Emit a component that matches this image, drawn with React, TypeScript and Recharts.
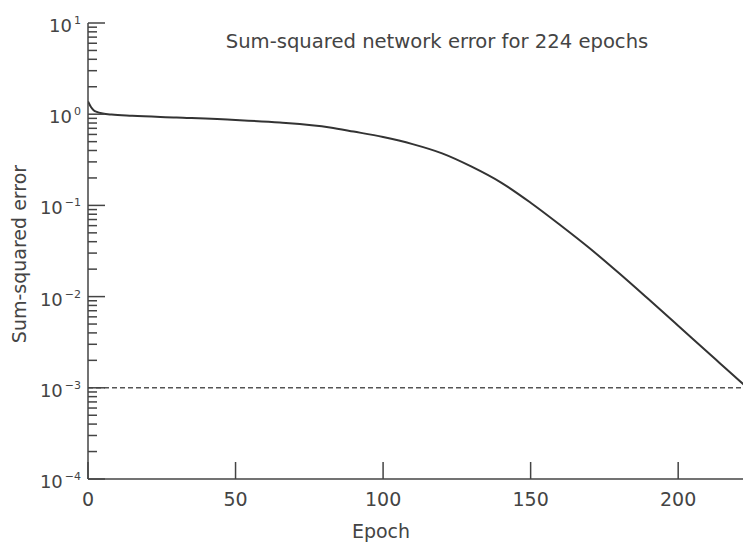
import React from "react"
import { LineChart, Line, XAxis, YAxis, ReferenceLine } from "recharts"

// values (epoch -> sum-squared error)
const epochs = [0, 1, 2, 3, 5, 8, 15, 30, 50, 65, 82, 90, 100, 110, 120, 130, 140, 150, 160, 170, 180, 190, 200, 210, 220, 224]
const errors = [1.38, 1.2, 1.1, 1.06, 1.02, 0.99, 0.96, 0.92, 0.865, 0.81, 0.716, 0.645, 0.562, 0.47, 0.372, 0.266, 0.178, 0.107, 0.061, 0.0339, 0.018, 0.00933, 0.00479, 0.00245, 0.00126, 0.00096]

const xTicks = [0, 50, 100, 150, 200]
const decades = [-4, -3, -2, -1, 0, 1]
const goal = 0.001

const title = "Sum-squared network error for 224 epochs"
const xLabel = "Epoch"
const yLabel = "Sum-squared error"

const data = epochs.map((e, i) => ({ epoch: e, err: errors[i] }))

// majors at each decade, minors 2..9 inside each decade
const yTicks: number[] = []
decades.forEach((d, i) => {
  yTicks.push(Math.pow(10, d))
  if (i < decades.length - 1) {
    for (let m = 2; m <= 9; m++) yTicks.push(m * Math.pow(10, d))
  }
})

const INK = "#444"
const FONT = "'DejaVu Sans', sans-serif"

function YTick(props: any) {
  const { x, y, payload } = props
  const exp = Math.log10(payload.value)
  const major = Math.abs(exp - Math.round(exp)) < 1e-6
  const e = Math.round(exp)
  return (
    <g>
      <line x1={x} y1={y} x2={x + (major ? 17 : 9)} y2={y} stroke={INK} strokeWidth={1.5} />
      {major && (
        <text x={x - 7} y={y + 9} textAnchor="end" fill={INK} fontSize={18} fontFamily={FONT}>
          <tspan>10</tspan>
          <tspan dx={2} dy={-8} fontSize={11}>{e < 0 ? "\u2212" + -e : String(e)}</tspan>
        </text>
      )}
    </g>
  )
}

function XTick(props: any) {
  const { x, y, payload } = props
  return (
    <g>
      <line x1={x} y1={y} x2={x} y2={y - 17} stroke={INK} strokeWidth={1.5} />
      <text x={x} y={y + 27} textAnchor="middle" fill={INK} fontSize={19} fontFamily={FONT}>
        {payload.value}
      </text>
    </g>
  )
}

export default function App() {
  return (
    <div style={{ position: "fixed", left: 0, top: 0, width: 743, height: 543, overflow: "hidden", background: "#fff" }}>
      <LineChart width={752} height={550} data={data} margin={{ top: 23, right: 3, left: 0, bottom: 0 }}>
        <XAxis
          dataKey="epoch"
          type="number"
          domain={[0, 224]}
          ticks={xTicks}
          interval={0}
          height={71}
          tickSize={0}
          tickMargin={0}
          tick={<XTick />}
          axisLine={{ stroke: INK, strokeWidth: 1.5 }}
          tickLine={false}
          allowDataOverflow
        />
        <YAxis
          scale="log"
          domain={[0.0001, 10]}
          ticks={yTicks}
          interval={0}
          width={88}
          tickSize={0}
          tickMargin={0}
          tick={<YTick />}
          axisLine={{ stroke: INK, strokeWidth: 1.5 }}
          tickLine={false}
          allowDataOverflow
        />
        <ReferenceLine y={goal} stroke="#555" strokeWidth={1.5} strokeDasharray="5 3" />
        <Line
          dataKey="err"
          type="monotone"
          stroke="#333"
          strokeWidth={2}
          dot={false}
          isAnimationActive={false}
        />
        <text x={437} y={48} textAnchor="middle" fill={INK} fontSize={19.6} fontFamily={FONT}>{title}</text>
        <text x={381} y={538} textAnchor="middle" fill={INK} fontSize={19} fontFamily={FONT}>{xLabel}</text>
        <text x={26} y={254} textAnchor="middle" fill={INK} fontSize={19} fontFamily={FONT} transform="rotate(-90 26 254)">{yLabel}</text>
      </LineChart>
    </div>
  )
}
